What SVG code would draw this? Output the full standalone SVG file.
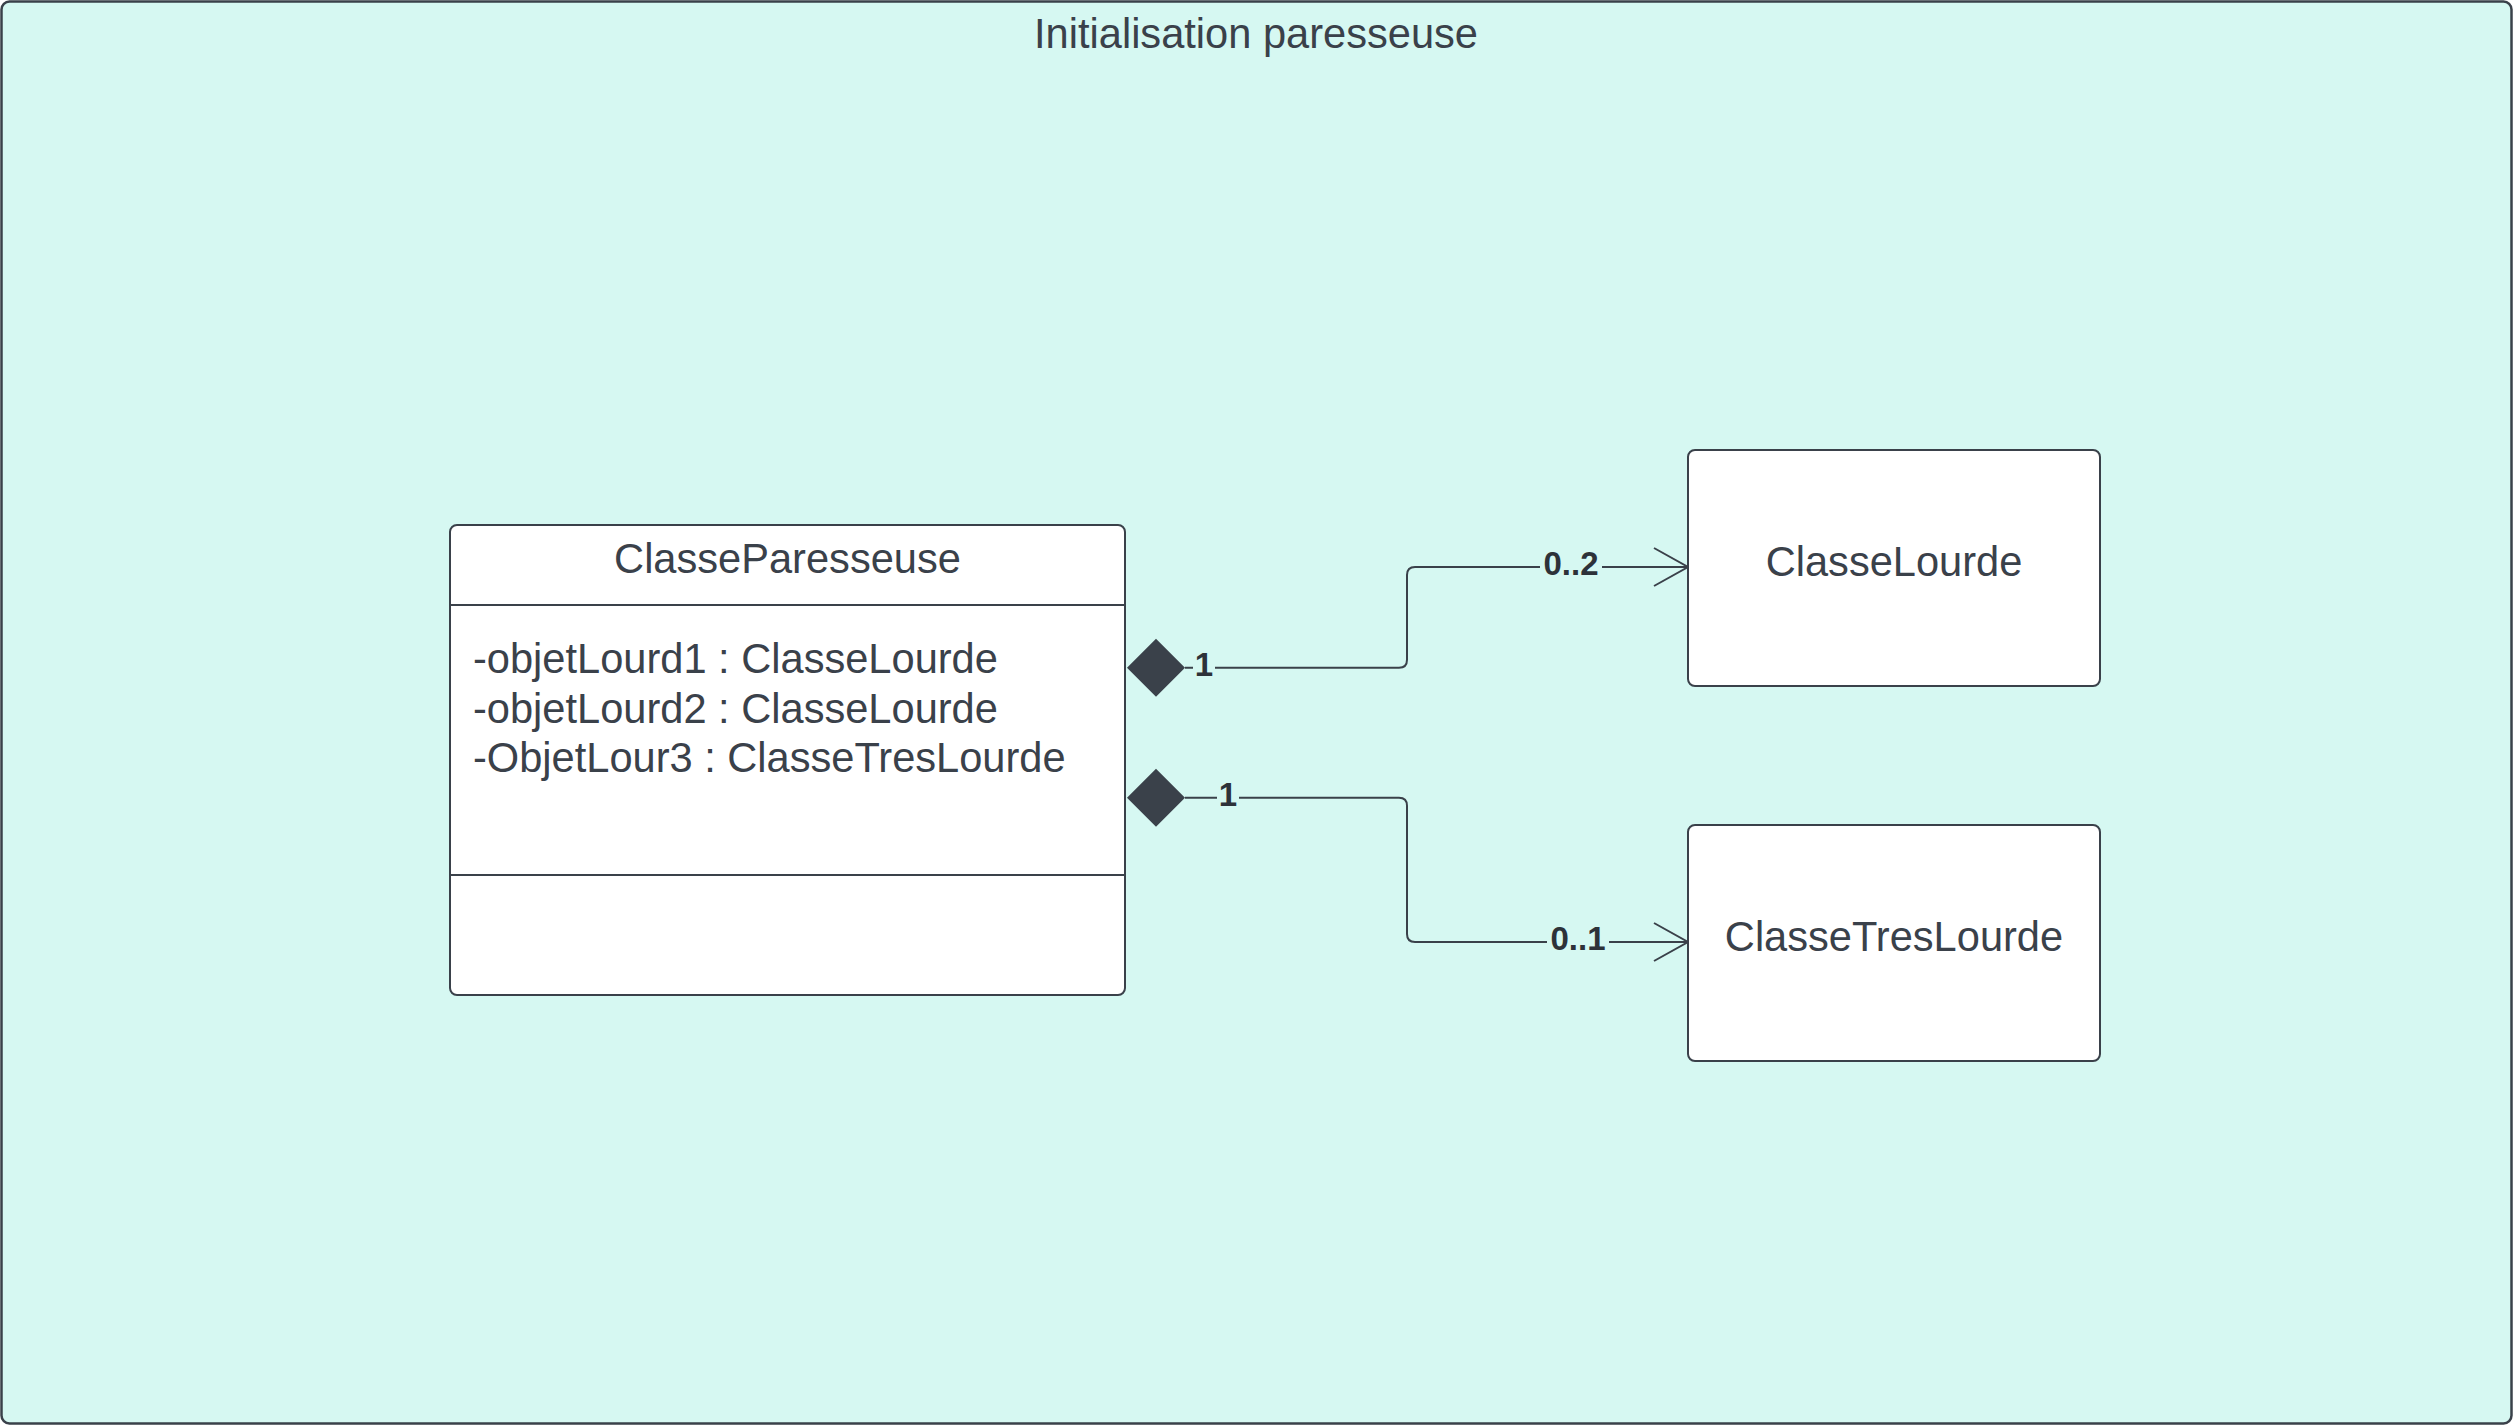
<svg xmlns="http://www.w3.org/2000/svg" width="2513" height="1425" viewBox="0 0 2513 1425">
<style>
.frame{fill:#d6f8f2;stroke:#3a414a;stroke-width:2.5}
.box{fill:#ffffff;stroke:#3a414a;stroke-width:2}
.div{stroke:#3a414a;stroke-width:2}
.t{font-family:"Liberation Sans",Arial,sans-serif;font-size:41.6px;fill:#3a414a}
.c{text-anchor:middle}
.lbl{font-family:"Liberation Sans",Arial,sans-serif;font-size:33px;font-weight:bold;fill:#2d3239;text-anchor:middle}
.lblbg{fill:#d6f8f2}
.line{fill:none;stroke:#3a414a;stroke-width:2}
.dia{fill:#3a414a}
</style>
<g id="frame">
<rect class="frame" x="1.5" y="1.5" width="2510" height="1422" rx="8"/>
<text class="t c" x="1256" y="48">Initialisation paresseuse</text>
</g>
<g id="connectors">
<path class="line" d="M1185,667.7 H1399 Q1407,667.7 1407,659.7 V575 Q1407,567 1415,567 H1688"/>
<polyline class="line" points="1654,548 1688,567 1654,586"/>
<polygon class="dia" points="1127,667.7 1156,638.7 1185,667.7 1156,696.7"/>
<rect class="lblbg" x="1193" y="651" width="22" height="32"/>
<text class="lbl" x="1204" y="676">1</text>
<rect class="lblbg" x="1540" y="550" width="62" height="32"/>
<text class="lbl" x="1571" y="575">0..2</text>
<path class="line" d="M1185,797.7 H1399 Q1407,797.7 1407,805.7 V934 Q1407,942 1415,942 H1688"/>
<polyline class="line" points="1654,923 1688,942 1654,961"/>
<polygon class="dia" points="1127,797.7 1156,768.7 1185,797.7 1156,826.7"/>
<rect class="lblbg" x="1217" y="781" width="22" height="32"/>
<text class="lbl" x="1228" y="806">1</text>
<rect class="lblbg" x="1547" y="925" width="62" height="32"/>
<text class="lbl" x="1578" y="950">0..1</text>
</g>
<g id="ClasseParesseuse">
<rect class="box" x="450" y="525" width="675" height="470" rx="7"/>
<line class="div" x1="450" y1="605" x2="1125" y2="605"/>
<line class="div" x1="450" y1="875" x2="1125" y2="875"/>
<text class="t c" x="787.5" y="573">ClasseParesseuse</text>
<text class="t" x="473" y="673">-objetLourd1 : ClasseLourde</text>
<text class="t" x="473" y="722.5">-objetLourd2 : ClasseLourde</text>
<text class="t" x="473" y="772">-ObjetLour3 : ClasseTresLourde</text>
</g>
<g id="ClasseLourde">
<rect class="box" x="1688" y="450" width="412" height="236" rx="7"/>
<text class="t c" x="1894" y="576">ClasseLourde</text>
</g>
<g id="ClasseTresLourde">
<rect class="box" x="1688" y="825" width="412" height="236" rx="7"/>
<text class="t c" x="1894" y="951">ClasseTresLourde</text>
</g>
</svg>
